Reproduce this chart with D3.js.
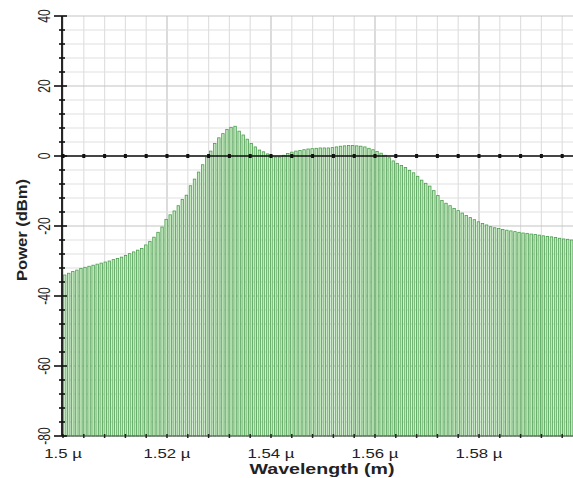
<!DOCTYPE html>
<html>
<head>
<meta charset="utf-8">
<script src="https://cdn.jsdelivr.net/npm/d3@7"></script>
<style>
  html, body { margin: 0; padding: 0; background: #fff; }
  svg { display: block; }
  text { font-family: "Liberation Sans", Arial, sans-serif; fill: #222; }
</style>
</head>
<body>
<svg id="chart" width="573" height="478"></svg>
<script>
// spectrum samples, one bar per step, starting at 1.5 µm
const startWavelength = 1.5
const stepWavelength = 0.00078
const powerDbm = [
  -34.0, -33.5, -33.0, -32.6, -32.1, -31.8, -31.5, -31.2, -30.9, -30.6,
  -30.3, -30.0, -29.6, -29.3, -28.9, -28.4, -27.9, -27.4, -26.9, -26.4,
  -25.4, -24.4, -23.2, -21.8, -20.3, -18.1, -16.8, -15.7, -14.2, -12.4,
  -11.2, -8.5, -6.6, -4.6, -2.5, -0.3, 1.4, 3.6, 5.2, 6.4,
  7.6, 8.2, 8.5, 7.1, 6.0, 4.8, 3.6, 2.6, 1.7, 1.2,
  0.6, 0.0, -0.3, -0.3, 0.2, 0.7, 1.1, 1.4, 1.6, 1.8,
  2.0, 2.1, 2.2, 2.3, 2.3, 2.3, 2.4, 2.6, 2.8, 2.9,
  3.0, 3.0, 2.9, 2.8, 2.6, 2.2, 1.8, 1.3, 0.8, 0.2,
  -0.5, -1.4, -2.1, -2.7, -3.3, -4.1, -4.8, -5.8, -6.9, -7.8,
  -8.6, -9.9, -11.3, -12.7, -13.5, -14.2, -15.0, -15.6, -16.3, -17.0,
  -17.6, -18.2, -18.8, -19.3, -19.7, -20.2, -20.5, -20.7, -21.0, -21.2,
  -21.4, -21.6, -21.8, -22.0, -22.1, -22.3, -22.4, -22.6, -22.8, -23.0,
  -23.1, -23.3, -23.5, -23.7, -23.8, -24.0
]

const xTicks = [1.5, 1.52, 1.54, 1.56, 1.58]
const xTickLabels = ['1.5 µ', '1.52 µ', '1.54 µ', '1.56 µ', '1.58 µ']
const yTicks = [-80, -60, -40, -20, 0, 20, 40]
const xMinorTicks = d3.range(1.5, 1.6001, 0.004)
const yMinorTicks = d3.range(-80, 40.01, 4)

const width = 573
const plotLeft = 63, plotTop = 16, plotBottom = 436
const textStretch = 1.4   // picture is wider than tall

const svg = d3.select('#chart')

const x = d3.scaleLinear().domain([1.5, 1.6]).range([plotLeft, plotLeft + 520])
const y = d3.scaleLinear().domain([-80, 40]).range([plotBottom, plotTop])

// grid
const grid = svg.append('g')
grid.selectAll('line.vminor')
  .data(xMinorTicks)
  .enter().append('line')
  .attr('x1', d => x(d)).attr('x2', d => x(d))
  .attr('y1', plotTop).attr('y2', plotBottom)
  .attr('stroke', d => xTicks.some(t => Math.abs(t - d) < 1e-6) ? '#c4c4c4' : '#e0e0e0')
  .attr('stroke-width', 1.2)
grid.selectAll('line.hminor')
  .data(yMinorTicks)
  .enter().append('line')
  .attr('x1', plotLeft).attr('x2', width)
  .attr('y1', d => y(d)).attr('y2', d => y(d))
  .attr('stroke', d => d % 20 === 0 ? '#c4c4c4' : '#e0e0e0')
  .attr('stroke-width', 1.2)

// bars
const barStep = x(startWavelength + stepWavelength) - x(startWavelength)
svg.append('g')
  .selectAll('rect')
  .data(powerDbm)
  .enter().append('rect')
  .attr('x', (d, i) => x(startWavelength + i * stepWavelength) + 0.5)
  .attr('y', d => y(d))
  .attr('width', barStep - 1.6)
  .attr('height', d => y(-80) - y(d))
  .attr('fill', '#c4e8bd')
  .attr('stroke', '#4a9e4f')
  .attr('stroke-width', 0.8)

// zero line with ticks
const zero = svg.append('g')
zero.append('line')
  .attr('x1', plotLeft).attr('x2', width)
  .attr('y1', y(0)).attr('y2', y(0))
  .attr('stroke', '#111').attr('stroke-width', 1.5)
zero.selectAll('rect')
  .data(xMinorTicks)
  .enter().append('rect')
  .attr('x', d => x(d) - 1.5).attr('y', y(0) - 2)
  .attr('width', 3).attr('height', 4)
  .attr('fill', '#111')

// bottom axis
const bot = svg.append('g')
bot.append('line')
  .attr('x1', plotLeft).attr('x2', width)
  .attr('y1', plotBottom).attr('y2', plotBottom)
  .attr('stroke', '#555').attr('stroke-width', 1)
bot.selectAll('line.t')
  .data(xMinorTicks)
  .enter().append('line')
  .attr('x1', d => x(d)).attr('x2', d => x(d))
  .attr('y1', plotBottom - 2).attr('y2', plotBottom + 2)
  .attr('stroke', '#222').attr('stroke-width', 1.5)

// y axis
const yax = svg.append('g')
yax.append('line')
  .attr('x1', plotLeft - 1).attr('x2', plotLeft - 1)
  .attr('y1', plotTop).attr('y2', plotBottom)
  .attr('stroke', '#111').attr('stroke-width', 1.8)
yax.selectAll('line.t')
  .data(yMinorTicks)
  .enter().append('line')
  .attr('x1', d => d % 20 === 0 ? plotLeft - 9 : plotLeft - 4)
  .attr('x2', d => d % 20 === 0 ? plotLeft + 4 : plotLeft + 2)
  .attr('y1', d => y(d)).attr('y2', d => y(d))
  .attr('stroke', '#111').attr('stroke-width', 1.6)

// tick labels
svg.append('g')
  .selectAll('g')
  .data(xTicks)
  .enter().append('g')
  .attr('transform', d => `translate(${x(d)},458) scale(${textStretch},1)`)
  .append('text')
  .attr('text-anchor', 'middle')
  .style('font-size', '12px')
  .text((d, i) => xTickLabels[i])

svg.append('g')
  .selectAll('g')
  .data(yTicks)
  .enter().append('g')
  .attr('transform', d => `translate(50,${y(d)}) scale(${textStretch},1) rotate(-90)`)
  .append('text')
  .attr('text-anchor', 'middle')
  .style('font-size', '12px')
  .text(d => d)

// axis titles
svg.append('g')
  .attr('transform', `translate(322,474) scale(${textStretch},1)`)
  .append('text')
  .attr('text-anchor', 'middle')
  .style('font-size', '14px')
  .style('font-weight', 'bold')
  .text('Wavelength (m)')

svg.append('g')
  .attr('transform', `translate(27,230) scale(${textStretch},1) rotate(-90)`)
  .append('text')
  .attr('text-anchor', 'middle')
  .attr('textLength', 102)
  .attr('lengthAdjust', 'spacingAndGlyphs')
  .style('font-size', '11px')
  .style('font-weight', 'bold')
  .text('Power (dBm)')
</script>
</body>
</html>
